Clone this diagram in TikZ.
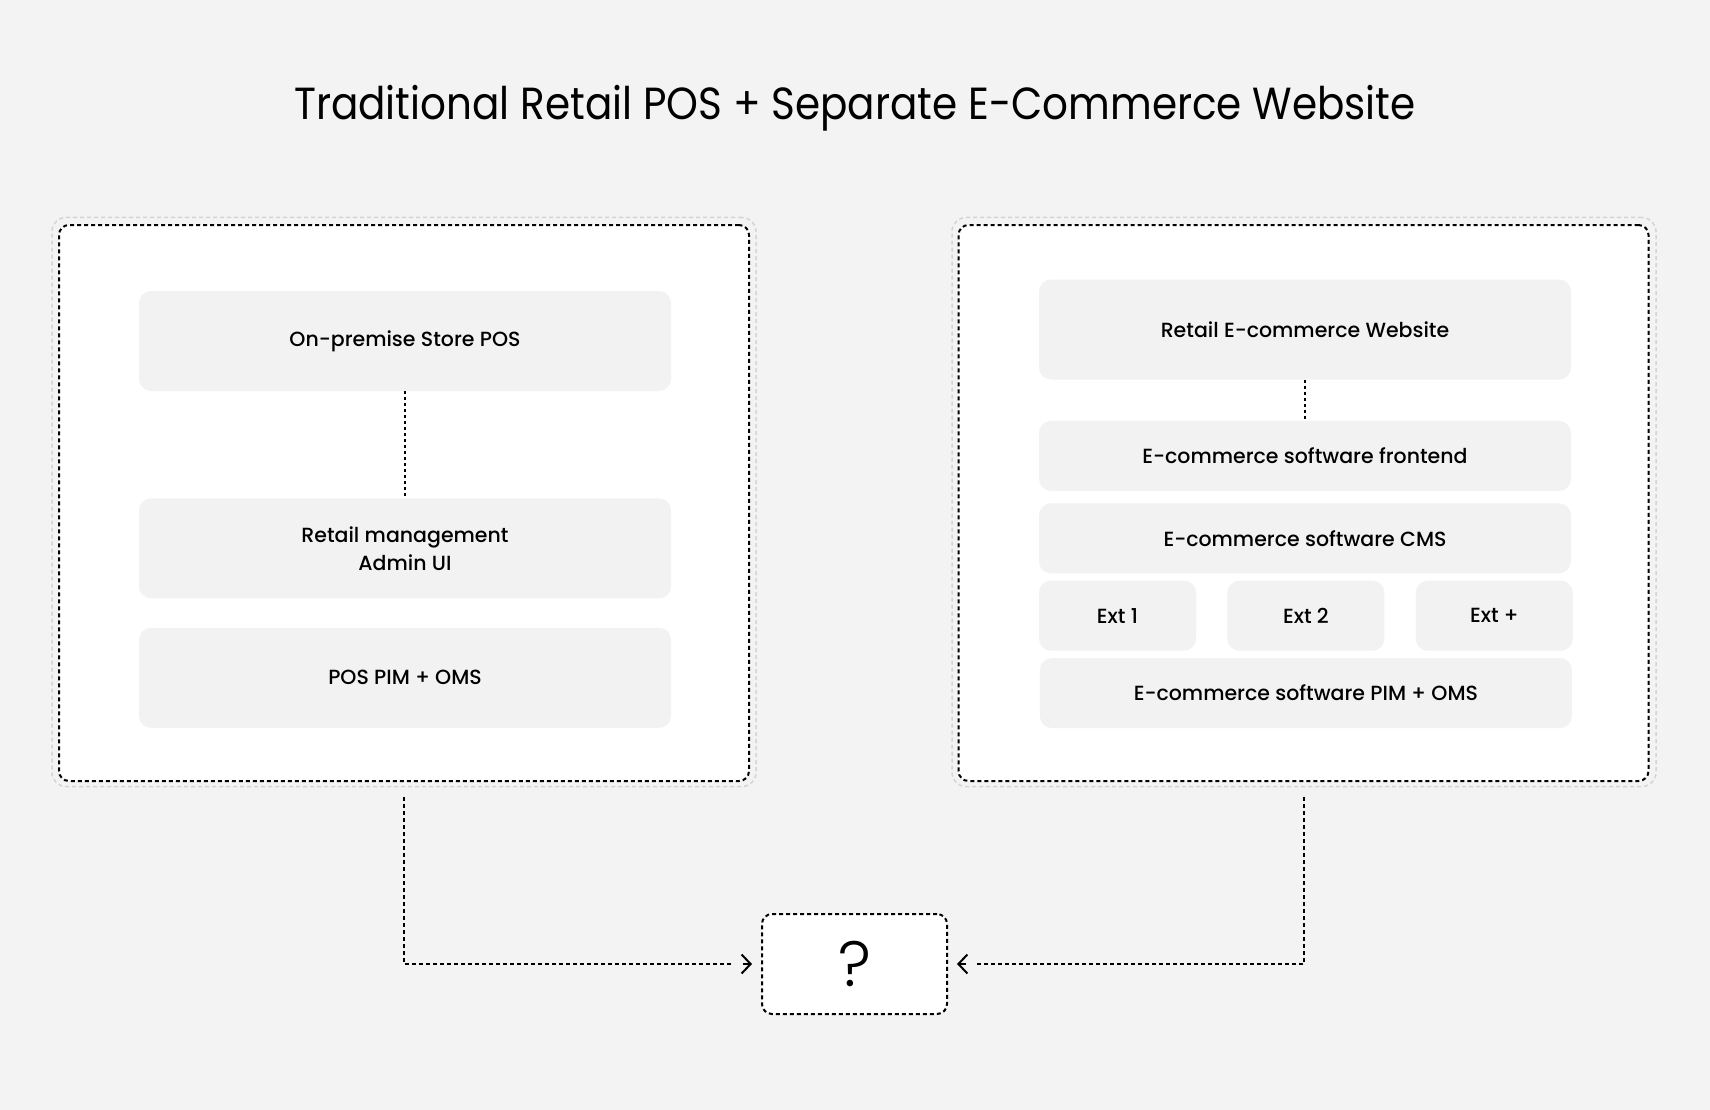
\documentclass[tikz,border=0pt]{standalone}
\usepackage{fontspec}
\setmainfont{Poppins}
\newfontfamily\titlefont[FakeStretch=0.9]{Poppins}
\newfontfamily\labelfont[UprightFont=* Medium]{Poppins}
\newfontfamily\thinfont[UprightFont=* Light]{Poppins}
\usetikzlibrary{positioning, arrows.meta}
\definecolor{pagebg}{HTML}{F3F3F3}
\definecolor{boxfill}{HTML}{F2F2F2}
\definecolor{halogray}{HTML}{D4D4D4}

\begin{document}
\begin{tikzpicture}[
            x=1pt, y=-1pt,
            frame/.style={rectangle, draw=black, fill=white, rounded corners=10pt, line width=2pt, dash pattern=on 4pt off 3pt, minimum width=690pt, minimum height=556pt},
            halo/.style={rectangle, draw=halogray, rounded corners=14pt, line width=1.5pt, dash pattern=on 4pt off 3pt, minimum width=704pt, minimum height=569pt},
            layer/.style={rectangle, fill=boxfill, rounded corners=12pt, minimum width=532pt, minimum height=70pt, align=center, font=\labelfont\fontsize{20.5}{28}\selectfont},
            tall/.style={layer, minimum height=100pt},
            ext/.style={layer, minimum width=157pt},
            link/.style={draw, line width=1.5pt, dash pattern=on 3pt off 3pt},
            flow/.style={draw, line width=2pt, dash pattern=on 4pt off 3pt, shorten <=15pt, shorten >=29pt},
            chevron/.style={draw, line width=2pt, shorten >=9pt, -{Straight Barb[length=9pt, width=19pt]}},
        ]
            \useasboundingbox[fill=pagebg] (0,0) rectangle (1710,1110);

            % Titulo
            \node[font=\titlefont\fontsize{45}{54}\selectfont] (title) at (855,108) {Traditional Retail POS + Separate E-Commerce Website};

            % Marcos
            \node[halo] (lefthalo) at (404,502) {};
            \node[frame] (leftframe) at (404,503) {};
            \node[halo] (righthalo) at (1304,502) {};
            \node[frame] (rightframe) at (1303.5,503) {};

            % Tienda
            \node[tall] (storepos) at (405,341) {On-premise Store POS};
            \node[tall, below=107pt of storepos] (adminui) {Retail management\\Admin UI};
            \node[tall, below=29pt of adminui] (pospim) {POS PIM + OMS};

            % Tienda online
            \node[tall] (website) at (1305,329.5) {Retail E-commerce Website};
            \node[layer, below=41pt of website] (frontend) {E-commerce software frontend};
            \node[layer, below=12pt of frontend] (cms) {E-commerce software CMS};
            \node[ext, below=7pt of cms.south west, anchor=north west] (extone) {Ext 1};
            \node[ext, right=31pt of extone] (exttwo) {Ext 2};
            \node[ext, right=31pt of exttwo] (extplus) {Ext +};
            \node[layer, below=7pt of exttwo] (pim) {E-commerce software PIM + OMS};

            % Incognita
            \node[frame, minimum width=185pt, minimum height=100pt, font=\thinfont\fontsize{64}{70}\selectfont] (quest) at (854.5,964) {?};
            \coordinate[left=18pt of quest.west] (leftgap);
            \coordinate[right=18pt of quest.east] (rightgap);

            % Conexiones
            \draw[link] (storepos) -- (adminui);
            \draw[link] (website) -- (frontend);
            \draw[flow] (leftframe.south) |- (quest.west);
            \draw[flow] (rightframe.south) |- (quest.east);
            \draw[chevron] (leftgap) -- (quest.west);
            \draw[chevron] (rightgap) -- (quest.east);
        \end{tikzpicture}
\end{document}
